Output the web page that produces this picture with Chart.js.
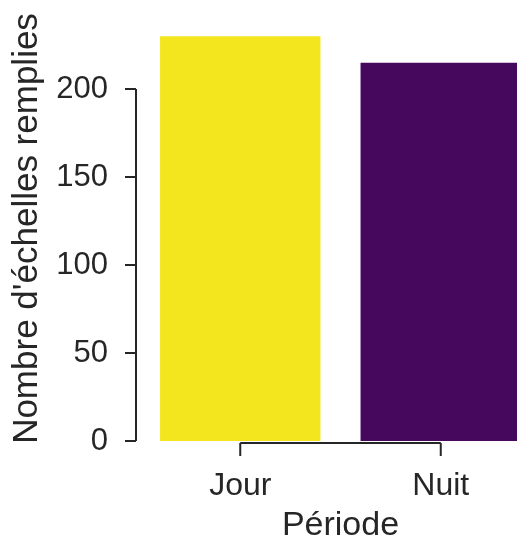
<!DOCTYPE html>
<html>
<head>
<meta charset="utf-8">
<script src="https://cdn.jsdelivr.net/npm/chart.js@4"></script>
<style>
  html, body { margin: 0; padding: 0; background: #fff; overflow: hidden; }
</style>
</head>
<body>
<canvas id="chart" width="541" height="543" style="width:541px;height:543px;"></canvas>
<script>
const periodes = ['Jour', 'Nuit'];
const echelles = [230, 215];
const barColors = ['#f4e61e', '#46085c'];
const yTicks = [0, 50, 100, 150, 200];

const ink = '#262626';
const font = 'Liberation Sans, Arial, sans-serif';

// seaborn-like trimmed spines with offset
const spines = {
  id: 'spines',
  afterDraw(chart) {
    const { ctx, chartArea, scales } = chart;
    const x = scales.x, y = scales.y;
    const sx = chartArea.left - 4;
    const sy = y.getPixelForValue(0) + 2;
    ctx.save();
    ctx.strokeStyle = ink;
    ctx.lineWidth = 2;
    ctx.beginPath();
    ctx.moveTo(sx, y.getPixelForValue(yTicks[0]));
    ctx.lineTo(sx, y.getPixelForValue(yTicks[yTicks.length - 1]));
    yTicks.forEach(v => {
      const py = y.getPixelForValue(v);
      ctx.moveTo(sx - 11, py);
      ctx.lineTo(sx, py);
    });
    const x0 = x.getPixelForValue(0), x1 = x.getPixelForValue(periodes.length - 1);
    ctx.moveTo(x0, sy);
    ctx.lineTo(x1, sy);
    periodes.forEach((p, i) => {
      const px = x.getPixelForValue(i);
      ctx.moveTo(px, sy);
      ctx.lineTo(px, sy + 13);
    });
    ctx.stroke();
    ctx.restore();
  }
};

new Chart(document.getElementById('chart'), {
  type: 'bar',
  data: {
    labels: periodes,
    datasets: [{
      data: echelles,
      backgroundColor: barColors,
      borderWidth: 0,
      categoryPercentage: 0.8,
      barPercentage: 1.0
    }]
  },
  options: {
    responsive: false,
    devicePixelRatio: 1,
    animation: false,
    layout: { padding: { left: 0, right: 0, top: 16, bottom: 0 } },
    plugins: { legend: { display: false }, tooltip: { enabled: false } },
    scales: {
      x: {
        offset: true,
        grid: { display: false, drawTicks: false },
        border: { display: false },
        ticks: { color: ink, font: { family: font, size: 32 }, padding: 26 },
        title: { display: true, text: 'Période', color: ink, font: { family: font, size: 34 }, padding: { top: 0, bottom: -3 } },
        afterFit: s => { s.height = 102; s.paddingLeft = 0; s.paddingRight = 0; }
      },
      y: {
        min: 0,
        max: 241.5,
        grid: { display: false, drawTicks: false },
        border: { display: false },
        ticks: { color: ink, font: { family: font, size: 31 }, padding: 32 },
        afterBuildTicks: s => { s.ticks = yTicks.map(v => ({ value: v })); },
        title: { display: true, text: "Nombre d'échelles remplies", color: ink, font: { family: font, size: 35 }, padding: { top: 6, bottom: 0 } },
        afterFit: s => { s.width = 140; s.paddingTop = 0; s.paddingBottom = 0; }
      }
    }
  },
  plugins: [spines]
});
</script>
</body>
</html>
